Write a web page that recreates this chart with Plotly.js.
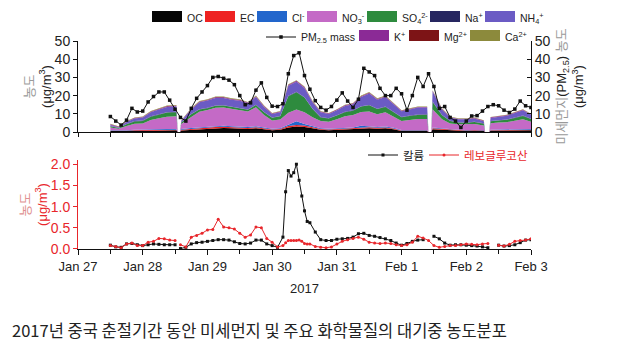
<!DOCTYPE html>
<html>
<head>
<meta charset="utf-8">
<script src="https://cdn.plot.ly/plotly-3.0.1.min.js"></script>
<style>html,body{margin:0;padding:0;background:#fff;}#chart{width:621px;height:356px;}</style>
</head>
<body>
<div id="chart"></div>
<script>
// ---- data (hours after 2017-01-27 00:00) ----
const areaHours = [12,15,18,21,24,27,30,33,36.5,37,37.8,38.3,42,45,48,51,54,57,60,63,66,69,72,75,78,81,84,87,90,93,96,99,102,105,108,111,114,117,120,123,126,129.5,130,131,131.5,135,138,141,144,147,150.5,151,152.5,153,156,159,162,165,168];
const OC  = [.5,.4,.5,.6,.6,.7,.8,.9,1.0,0,0,.8,1.2,1.5,1.7,2.0,2.2,2.0,1.8,1.6,2.0,1.5,1.0,1.2,2.5,3.0,2.8,2.0,1.2,1.0,1.2,1.5,1.6,2.0,2.0,1.8,2.0,1.5,.5,.5,.5,.5,0,0,1.5,1.2,.8,.6,.5,.6,.5,0,0,.7,.8,.8,1.0,1.1,1.0];
const EC  = [.2,.2,.2,.3,.3,.3,.3,.3,.3,0,0,.5,.6,.6,.6,.7,.7,.7,.6,.6,.6,.5,.4,.4,.8,.9,.8,.6,.4,.4,.4,.5,.5,.5,.6,.5,.5,.4,.3,.3,.3,.3,0,0,.5,.4,.3,.3,.3,.3,.3,0,0,.3,.3,.3,.3,.4,.3];
const Cl  = [.3,.2,.3,.3,.3,.4,.4,.4,.4,0,0,.3,.4,.5,.5,.6,.6,.5,.5,.5,.5,.5,.4,.4,.8,2.0,.8,.5,.4,.4,.4,.4,.4,1.0,.6,.5,.5,.4,.3,.3,.3,.3,0,0,.5,.4,.3,.3,.3,.3,.3,0,0,.3,.3,.3,.3,.3,.3];
const NO3 = [1.5,1.0,2.3,3.3,3.5,5.2,6.0,6.8,7.0,0,0,2.8,6.0,8.5,9.3,10.0,10.0,9.5,9.3,8.5,10.5,6.8,4.5,4.8,6.5,6.5,6.5,5.0,4.0,3.8,5.0,6.2,6.8,7.5,8.0,7.0,7.8,6.0,5.0,5.5,6.0,6.0,0,0,10,5.0,3.3,3.0,3.0,3.2,2.5,0,0,3.5,3.8,4.0,4.6,5.2,4.0];
const SO4 = [.6,.4,1.0,1.3,1.4,1.8,2.0,2.3,2.2,0,0,.8,1.5,1.2,1.0,1.1,1.0,1.0,1.0,1.0,1.2,1.5,1.5,1.8,9.0,9.5,8.0,4.5,2.0,1.8,2.0,2.3,2.4,3.0,3.5,2.8,3.0,2.5,2.0,2.2,2.3,2.4,0,0,4.0,2.2,1.3,1.0,1.0,1.1,1.0,0,0,1.1,1.2,1.3,1.5,1.8,1.5];
const Na  = [.2,.15,.15,.2,.2,.2,.2,.2,.2,0,0,.15,.2,.2,.2,.2,.2,.2,.2,.2,.2,.2,.2,.2,.25,.25,.25,.2,.2,.2,.2,.2,.2,.2,.2,.2,.2,.2,.2,.2,.2,.2,0,0,.2,.2,.15,.15,.15,.15,.15,0,0,.15,.15,.15,.2,.2,.15];
const NH4 = [.6,.3,1.0,1.4,1.6,2.2,2.6,2.9,3.0,0,0,.7,2.5,3.8,4.0,4.1,4.0,3.8,3.8,3.4,4.2,2.8,1.9,2.1,5.5,5.5,5.0,3.5,2.7,2.3,2.7,3.2,3.4,5.0,6.3,4.9,5.2,4.3,3.1,3.4,3.8,3.7,0,0,5.5,3.0,1.8,1.6,1.7,1.8,1.2,0,0,1.7,1.9,2.1,2.5,2.9,2.2];
const K   = [.3,.3,.3,.3,.3,.35,.35,.35,.35,0,0,.25,.3,.35,.35,.4,.4,.4,.4,.35,.4,.35,.3,.3,.45,.45,.45,.35,.3,.3,.3,.35,.35,.4,.4,.4,.4,.35,.3,.3,.3,.3,0,0,.4,.3,.3,.3,.3,.3,.3,0,0,.3,.3,.3,.3,.3,.3];
const Mg  = [.1,.05,.05,.1,.1,.1,.1,.1,.1,0,0,.05,.1,.1,.1,.1,.1,.1,.1,.1,.1,.1,.1,.1,.1,.1,.1,.1,.1,.1,.1,.1,.1,.1,.1,.1,.1,.1,.1,.1,.1,.1,0,0,.1,.1,.05,.05,.05,.05,.05,0,0,.05,.05,.05,.1,.1,.05];
const Ca  = [.2,.2,.2,.2,.2,.25,.25,.25,.25,0,0,.15,.2,.25,.25,.3,.3,.3,.3,.25,.3,.25,.2,.2,.3,.3,.3,.25,.2,.2,.2,.25,.25,.3,.3,.3,.3,.25,.2,.2,.2,.2,0,0,.3,.2,.2,.2,.2,.2,.2,0,0,.2,.2,.2,.2,.2,.2];

const pmHours = [12,14,16,18,20,22,24,26,28,30,32,34,36,38,40,42,44,46,48,50,52,54,56,58,60,62,64,66,68,70,72,74,76,78,80,82,84,86,88,90,92,94,96,98,100,102,104,106,108,110,112,114,116,118,120,122,124,126,128,130,132,134,136,138,140,142,144,146,148,150,152,154,156,158,160,162,164,166,168];
const pmMass  = [8.5,6,3.8,6.5,13,11,11.5,16.5,19.5,22,22,17.5,12.5,8,6,13,18.5,22,25.5,30,30.5,29.5,28.5,26,20,15,16,23,27,19,14.2,14,15.5,32,42,43.5,31,23.5,17.2,13.5,12,14,17.5,21.5,17,13.5,18,35,33,31,24,20,20,24,21,12,20,30,25,32,25,13,14,8,6,2.5,6,8.8,9,11.5,14,15,14.4,12,10.7,12.6,17,14.4,13.5];

const botHours = [12,14,16,18,20,22,24,26,28,30,32,34,36,37,38,40,42,44,46,48,50,52,54,56,58,60,62,64,66,68,70,72,74,76,77,78,79,80,81,82,83,84,85,86,88,90,92,94,96,98,100,102,104,106,108,110,112,114,116,118,120,122,124,126,128,130,132,134,136,138,140,142,144,146,148,150,152,154,156,158,160,162,164,166,168];
const potassium = [.09,.05,.04,.12,.13,.1,.08,.1,.12,.11,.1,.1,.1,null,.01,.04,.12,.15,.16,.18,.2,.22,.22,.21,.17,.13,.12,.14,.21,.21,.12,.08,.04,.28,1.35,1.85,1.72,1.8,2.0,1.62,1.25,.9,.65,.62,.4,.22,.2,.2,.23,.24,.25,.28,.36,.37,.32,.3,.27,.24,.2,.14,.09,.13,.18,.21,.22,null,.3,.24,.14,.09,.1,.1,.09,.08,.07,.05,.03,null,.09,.07,.08,.1,.15,.21,.22];
const levoglucosan = [.08,.06,.03,.12,.14,.08,.08,.16,.18,.25,.24,.21,.2,null,.1,.05,.28,.32,.37,.45,.46,.7,.52,.5,.47,.37,.28,.33,.52,.5,.25,.16,.05,.08,.15,.2,.2,.2,.2,.21,.18,.13,.12,.12,.06,.04,.03,.05,.12,.18,.22,.25,.28,.23,.16,.14,.13,.14,.13,.1,.08,.1,.16,.3,.26,.2,.08,.04,.06,.08,.08,.1,.12,.11,.1,.12,.13,null,.09,.07,.11,.18,.2,.21,.24];

const componentNames  = ['OC','EC','Cl<sup>-</sup>','NO<sub>3</sub><sup>-</sup>','SO<sub>4</sub><sup>2-</sup>','Na<sup>+</sup>','NH<sub>4</sub><sup>+</sup>','K<sup>+</sup>','Mg<sup>2+</sup>','Ca<sup>2+</sup>'];
const componentValues = [OC, EC, Cl, NO3, SO4, Na, NH4, K, Mg, Ca];
const componentColors = ['#050505','#ee2222','#2266cc','#c46ac6','#2e8b3e','#262660','#6b5bc4','#8b2a96','#7d1416','#8c8a3c'];

// legend placement: pixel where each swatch starts, and row centre
const compSwatchX = [152,205,257,307,367,430,485, 359,409,470];
const compSwatchY = [18,18,18,18,18,18,18, 37,37,37];
const pmSwatchX = 266;
const botSwatchX = [368, 429];
const botSwatchY = 155;

function hToDate(h){
  const d = new Date(Date.UTC(2017,0,27) + h*3600000);
  return d.toISOString().slice(0,19).replace('T',' ');
}
const areaX = areaHours.map(hToDate);
const pmX = pmHours.map(hToDate);
const botX = botHours.map(hToDate);

const PL = 78, PW = 453, PB = 249, PH = 208;
const px2x = p => (p - PL) / PW;
const px2y = p => (PB - p) / PH;

const narrowFam = 'Liberation Sans Narrow, Arial Narrow, Liberation Sans, Arial, sans-serif';
const red = '#e8262b';
const traces = [];
const legends = {};
let legIdx = 0;
function newLegend(swatchPx, rowPx, fontFam, fontSize, fontColor){
  legIdx += 1;
  const id = legIdx === 1 ? 'legend' : 'legend' + legIdx;
  legends[id] = {orientation:'h', x: px2x(swatchPx - 5), xanchor:'left', y: px2y(rowPx), yanchor:'middle',
    font:{family: fontFam || narrowFam, size: fontSize || 10.5, color: fontColor || '#222'},
    bgcolor:'rgba(0,0,0,0)', borderwidth:0};
  return id;
}

componentValues.forEach((vals, i) => {
  traces.push({
    type:'scatter', mode:'lines', x: areaX, y: vals, stackgroup:'ions',
    name: componentNames[i], line:{width:0, color: componentColors[i]},
    fillcolor: componentColors[i], xaxis:'x', yaxis:'y', showlegend:false
  });
});
// legend swatches for the ion species (no data drawn)
componentValues.forEach((vals, i) => {
  if (i === 7) {
    traces.push({
      type:'scatter', mode:'lines+markers', x: pmX, y: pmMass, name:'PM<sub>2.5</sub> mass',
      line:{color:'#111', width:1}, marker:{symbol:'square', size:3.5, color:'#111'},
      xaxis:'x', yaxis:'y3', legend: newLegend(pmSwatchX, 37)
    });
  }
  traces.push({
    type:'scatter', mode:'lines', x:[null], y:[null], fill:'toself', name: componentNames[i],
    line:{width:10, color: componentColors[i]}, fillcolor: componentColors[i],
    xaxis:'x', yaxis:'y', legend: newLegend(compSwatchX[i], compSwatchY[i])
  });
});
traces.push({
  type:'scatter', mode:'lines+markers', x: botX, y: potassium, name:'칼륨',
  line:{color:'#111', width:1}, marker:{symbol:'square', size:3, color:'#111'},
  xaxis:'x2', yaxis:'y2', legend: newLegend(botSwatchX[0], botSwatchY, 'Noto Sans CJK KR, sans-serif', 11.5, '#222')
});
traces.push({
  type:'scatter', mode:'lines+markers', x: botX, y: levoglucosan, name:'레보글루코산',
  line:{color:red, width:1}, marker:{symbol:'circle', size:3, color:red},
  xaxis:'x2', yaxis:'y2', legend: newLegend(botSwatchX[1], botSwatchY, 'Noto Sans CJK KR, sans-serif', 11.5, red)
});

const fam = 'Liberation Sans, Arial, Noto Sans CJK KR, sans-serif';
const xr = ['2017-01-27 00:00','2017-02-03 00:00'];

const layout = Object.assign({
  width:621, height:356,
  margin:{l:78, r:90, t:41, b:107, autoexpand:false},
  paper_bgcolor:'#fff', plot_bgcolor:'#fff',
  font:{family:fam, size:13, color:'#222'},
  hovermode:false,
  xaxis:{anchor:'y', domain:[0,1], type:'date', range:xr, showline:true, linecolor:'#111', linewidth:1,
    ticks:'outside', ticklen:4, tickcolor:'#111', tick0:'2017-01-27', dtick:43200000,
    showticklabels:false, showgrid:false, zeroline:false},
  xaxis2:{anchor:'y2', domain:[0,1], type:'date', range:xr, showline:true, linecolor:'#111', linewidth:1,
    ticks:'outside', ticklen:5, tickcolor:'#111', tick0:'2017-01-27', dtick:86400000, tickformat:'%b %-d',
    minor:{dtick:43200000, ticks:'outside', ticklen:4, tickcolor:'#111'},
    showgrid:false, zeroline:false, tickfont:{size:13, color:'#222'},
    title:{text:'2017', font:{size:13, color:'#222'}, standoff:11}},
  yaxis:{domain:[0.5625,1], anchor:'x', range:[0,50], dtick:10, showline:true, linecolor:'#111', linewidth:1,
    ticks:'outside', ticklen:4, tickcolor:'#111', showgrid:false, zeroline:false, tickfont:{size:14, color:'#222'},
    title:{text:'<span style="color:#9a9a9a">농도</span><br>(μg/m<sup>3</sup>)', font:{size:13, color:'#222'}, standoff:0}},
  yaxis3:{overlaying:'y', side:'right', anchor:'x', range:[0,50], dtick:10, showline:true, linecolor:'#111', linewidth:1,
    ticks:'inside', ticklen:4, tickcolor:'#111', showgrid:false, zeroline:false, tickfont:{size:14, color:'#222'},
    title:{text:'<span style="color:#9a9a9a">미세먼지</span>(PM<sub>2.5</sub>) <span style="color:#9a9a9a">농도</span><br>(μg/m<sup>3</sup>)', font:{size:13, color:'#222'}, standoff:7}},
  yaxis2:{domain:[0,0.428], anchor:'x2', range:[0,2.1], dtick:0.5, tickformat:'.1f', showline:true, linecolor:red, linewidth:1,
    ticks:'outside', ticklen:4, tickcolor:red, showgrid:false, zeroline:false, tickfont:{size:14, color:red},
    title:{text:'<span style="color:#e09090">농도</span><br>(μg/m<sup>3</sup>)', font:{size:13, color:red}, standoff:0}},
  annotations:[{
    xref:'paper', yref:'paper', x:px2x(10), y:px2y(330), xanchor:'left', yanchor:'middle', showarrow:false,
    text:'2017년 중국 춘절기간 동안 미세먼지 및 주요 화학물질의 대기중 농도분포',
    font:{family:'Noto Sans CJK KR, sans-serif', size:16.5, color:'#222'}
  }]
}, legends);

Plotly.newPlot('chart', traces, layout, {displayModeBar:false, staticPlot:true});
</script>
</body>
</html>
